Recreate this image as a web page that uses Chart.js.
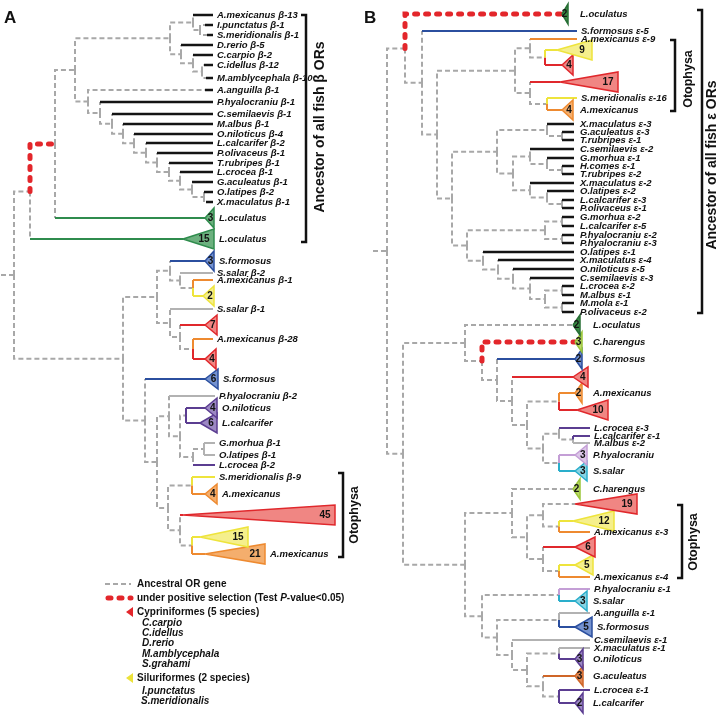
<!DOCTYPE html>
<html>
<head>
<meta charset="utf-8">
<script src="https://cdn.jsdelivr.net/npm/chart.js@4.4.0/dist/chart.umd.min.js"></script>
<style>
  body { margin: 0; background: #fff; }
  #wrap { width: 720px; height: 715px; }
</style>
</head>
<body>
<div id="wrap"><canvas id="tree" width="720" height="715"></canvas></div>
<script>
// ---- Panel A (beta ORs) ----
// internal nodes: [id, parent, depth]
const aNodes = [
  ["r", null, 1], ["n14", "r", 14], ["n30", "n14", 30], ["n55", "n30", 55], ["n75", "n55", 75],
  ["n170", "n75", 170], ["n193", "n170", 193], ["n200", "n193", 200], ["n181", "n170", 181],
  ["n193b", "n181", 193], ["n202", "n193b", 202], ["n88", "n75", 88], ["n100", "n88", 100],
  ["n112", "n100", 112], ["n123", "n112", 123], ["n134", "n123", 134], ["n146", "n134", 146],
  ["n157", "n146", 157], ["n169", "n157", 169], ["n180", "n169", 180], ["n192", "n180", 192],
  ["n204", "n192", 204],
  ["m123", "n14", 123], ["m157", "m123", 157], ["m170", "m157", 170], ["m180", "m170", 180],
  ["m193", "m180", 193], ["m170b", "m157", 170], ["m180b", "m170b", 180], ["m193b", "m180b", 193],
  ["m145", "m123", 145], ["m157b", "m145", 157], ["m169", "m157b", 169], ["m180c", "m169", 180],
  ["m186", "m180c", 186], ["m193c", "m180c", 193], ["m204", "m193c", 204], ["m168", "m157b", 168],
  ["m192", "m168", 192], ["m180d", "m168", 180], ["m192b", "m180d", 192]
];
// tips: [label, parent, position, group, genes in clade, clade start, tip depth, solid from, selected]
const aTips = [
  ["A.mexicanus β-13", "n193", 15, "k", 0, null, 213],
  ["I.punctatus β-1", "n200", 25, "k", 0, null, 213, 205],
  ["S.meridionalis β-1", "n200", 35, "k", 0, null, 213, 207],
  ["D.rerio β-5", "n181", 45, "k", 0, null, 213],
  ["C.carpio β-2", "n193b", 55, "k", 0, null, 213],
  ["C.idellus β-12", "n202", 65, "k", 0, null, 213, 204],
  ["M.amblycephala β-10", "n202", 78, "k", 0, null, 213, 206],
  ["A.anguilla β-1", "n88", 90, "k", 0, null, 213, 205],
  ["P.hyalocraniu β-1", "n100", 102, "k", 0, null, 213],
  ["C.semilaevis β-1", "n112", 114, "k", 0, null, 213],
  ["M.albus β-1", "n123", 124, "k", 0, null, 213],
  ["O.niloticus β-4", "n134", 134, "k", 0, null, 213],
  ["L.calcarifer β-2", "n146", 143, "k", 0, null, 213],
  ["P.olivaceus β-1", "n157", 153, "k", 0, null, 213],
  ["T.rubripes β-1", "n169", 163, "k", 0, null, 213],
  ["L.crocea β-1", "n180", 172, "k", 0, null, 213],
  ["G.aculeatus β-1", "n192", 182, "k", 0, null, 213],
  ["O.latipes β-2", "n204", 192, "k", 0, null, 213],
  ["X.maculatus β-1", "n204", 202, "k", 0, null, 213, 206],
  ["L.oculatus", "n55", 218, "gr", 3, 205, 214],
  ["L.oculatus", "n30", 239, "gr", 15, 183, 214],
  ["S.formosus", "m170", 261, "b", 3, 205, 214],
  ["S.salar β-2", "m180", 273, "g", 0, null, 213],
  ["A.mexicanus β-1", "m193", 280, "o", 0, null, 213],
  ["", "m193", 296, "y", 2, 203, 214],
  ["S.salar β-1", "m170b", 309, "g", 0, null, 213],
  ["", "m180b", 325, "r", 7, 205, 217],
  ["A.mexicanus β-28", "m193b", 339, "o", 0, null, 213],
  ["", "m193b", 359, "r", 4, 205, 216],
  ["S.formosus", "m145", 379, "b", 6, 205, 218],
  ["P.hyalocraniu β-2", "m169", 396, "g", 0, null, 215],
  ["O.niloticus", "m186", 408, "p", 4, 205, 217],
  ["L.calcarifer", "m186", 423, "p", 6, 200, 217],
  ["G.morhua β-1", "m204", 443, "g", 0, null, 215],
  ["O.latipes β-1", "m204", 455, "g", 0, null, 215],
  ["L.crocea β-2", "m193c", 465, "p", 0, null, 215],
  ["S.meridionalis β-9", "m192", 477, "y", 0, null, 215],
  ["A.mexicanus", "m192", 494, "o", 4, 205, 217],
  ["", "m180d", 515, "r", 45, 183, 335],
  ["", "m192b", 537, "y", 15, 200, 248],
  ["A.mexicanus", "m192b", 554, "o", 21, 205, 265]
];
const aSelected = ["n55"];

// ---- Panel B (epsilon ORs) ----
const bNodes = [
  ["r", null, 13], ["n27", "r", 27], ["n45", "n27", 45], ["n62", "n45", 62], ["n77", "n62", 77],
  ["n155", "n77", 155], ["n170", "n155", 170], ["n185", "n170", 185], ["n170b", "n155", 170],
  ["n187", "n170b", 187], ["n92", "n77", 92], ["n137", "n92", 137], ["n187b", "n137", 187],
  ["n202", "n187b", 202], ["n153", "n137", 153], ["n170c", "n153", 170], ["n187c", "n170c", 187],
  ["n202b", "n187c", 202], ["n170d", "n153", 170], ["n187d", "n170d", 187], ["n202c", "n187d", 202],
  ["n107", "n92", 107], ["n185b", "n107", 185], ["n202d", "n185b", 202], ["n202e", "n185b", 202],
  ["n123", "n107", 123], ["n138", "n123", 138], ["n153b", "n138", 153], ["n170e", "n153b", 170],
  ["n185c", "n170e", 185], ["n202f", "n185c", 202], ["n202g", "n185c", 202],
  ["m43", "n27", 43], ["m105", "m43", 105], ["m122", "m105", 122], ["m137", "m122", 137],
  ["m152", "m137", 152], ["m167", "m152", 167], ["m199", "m167", 199], ["m183", "m167", 183],
  ["m199b", "m183", 199], ["m213", "m199b", 213], ["m199c", "m183", 199],
  ["m105b", "m43", 105], ["m152b", "m105b", 152], ["m167b", "m152b", 167], ["m183b", "m167b", 183],
  ["m199d", "m183b", 199], ["m183c", "m167b", 183], ["m199e", "m183c", 199], ["m122b", "m105b", 122],
  ["m199f", "m122b", 199], ["m137b", "m122b", 137], ["m199g", "m137b", 199], ["m152c", "m137b", 152],
  ["m167c", "m152c", 167], ["m199h", "m167c", 199], ["m183d", "m167c", 183], ["m199i", "m183d", 199]
];
const bTips = [
  ["L.oculatus", "n45", 14, "dg", 2, 202, 208, null, true],
  ["S.formosus ε-5", "n62", 31, "b", 0, null, 217],
  ["A.mexicanus ε-9", "n170", 39, "o", 0, null, 217],
  ["", "n185", 50, "y", 9, 197, 232],
  ["", "n185", 65, "r", 4, 202, 213],
  ["", "n170b", 82, "r", 17, 200, 258],
  ["S.meridionalis ε-16", "n187", 98, "y", 0, null, 217],
  ["A.mexicanus", "n187", 110, "o", 4, 202, 213],
  ["X.maculatus ε-3", "n187b", 124, "k", 0, null, 214],
  ["G.aculeatus ε-3", "n202", 132, "k", 0, null, 214],
  ["T.rubripes ε-1", "n202", 140, "k", 0, null, 214],
  ["C.semilaevis ε-2", "n170c", 149, "k", 0, null, 214],
  ["G.morhua ε-1", "n187c", 158, "k", 0, null, 214],
  ["H.comes ε-1", "n202b", 166, "k", 0, null, 214],
  ["T.rubripes ε-2", "n202b", 174, "k", 0, null, 214],
  ["X.maculatus ε-2", "n170d", 183, "k", 0, null, 214],
  ["O.latipes ε-2", "n187d", 191, "k", 0, null, 214],
  ["L.calcarifer ε-3", "n202c", 200, "k", 0, null, 214],
  ["P.olivaceus ε-1", "n202c", 208, "k", 0, null, 214],
  ["G.morhua ε-2", "n202d", 217, "k", 0, null, 214],
  ["L.calcarifer ε-5", "n202d", 226, "k", 0, null, 214],
  ["P.hyalocraniu ε-2", "n202e", 235, "k", 0, null, 214],
  ["P.hyalocraniu ε-3", "n202e", 243, "k", 0, null, 214],
  ["O.latipes ε-1", "n123", 252, "k", 0, null, 214],
  ["X.maculatus ε-4", "n138", 260, "k", 0, null, 214],
  ["O.niloticus ε-5", "n153b", 269, "k", 0, null, 214],
  ["C.semilaevis ε-3", "n170e", 278, "k", 0, null, 214],
  ["L.crocea ε-2", "n202f", 286, "k", 0, null, 214],
  ["M.albus ε-1", "n202f", 295, "k", 0, null, 214],
  ["M.mola ε-1", "n202g", 303, "k", 0, null, 214],
  ["P.olivaceus ε-2", "n202g", 312, "k", 0, null, 214],
  ["L.oculatus", "m105", 325, "dg", 2, 213, 220, 213],
  ["C.harengus", "m122", 342, "lg", 3, 215, 222, null, true],
  ["S.formosus", "m137", 359, "b", 2, 215, 222],
  ["", "m152", 377, "r", 4, 213, 228],
  ["A.mexicanus", "m199", 393, "o", 2, 215, 222],
  ["", "m199", 410, "r", 10, 217, 248],
  ["L.crocea ε-3", "m199b", 428, "p", 0, null, 230],
  ["L.calcarifer ε-1", "m213", 436, "p", 0, null, 230],
  ["M.albus ε-2", "m213", 443, "g", 0, null, 230],
  ["P.hyalocraniu", "m199c", 455, "lp", 3, 215, 227],
  ["S.salar", "m199c", 471, "t", 3, 215, 227],
  ["C.harengus", "m152b", 489, "lg", 2, 213, 220, 213],
  ["", "m183b", 504, "r", 19, 215, 277, 215],
  ["", "m199d", 521, "y", 12, 213, 254],
  ["A.mexicanus ε-3", "m199d", 532, "o", 0, null, 230],
  ["", "m183c", 547, "r", 6, 215, 235],
  ["", "m199e", 565, "y", 5, 215, 233],
  ["A.mexicanus ε-4", "m199e", 577, "o", 0, null, 230],
  ["P.hyalocraniu ε-1", "m199f", 589, "lp", 0, null, 230],
  ["S.salar", "m199f", 601, "t", 3, 215, 227],
  ["A.anguilla ε-1", "m199g", 613, "g", 0, null, 230],
  ["S.formosus", "m199g", 627, "b", 5, 215, 232],
  ["C.semilaevis ε-1", "m152c", 640, "g", 0, null, 230],
  ["X.maculatus ε-1", "m199h", 648, "g", 0, null, 230],
  ["O.niloticus", "m199h", 659, "p", 3, 215, 223],
  ["G.aculeatus", "m183d", 676, "br", 3, 215, 223],
  ["L.crocea ε-1", "m199i", 690, "p", 0, null, 230],
  ["L.calcarifer", "m199i", 703, "p", 2, 215, 223]
];
const bSelected = [];

// ---- styles ----
const FONT = '"Liberation Sans", Arial, sans-serif';
const GRAY = "#a8a8a8";
const RED = "#e3262b";
const groupColors = {
  k: ["#141414", null], g: ["#b2b2b2", null],
  r: ["#e0282c", "#f08683"], o: ["#ee8a30", "#f4ae6d"], y: ["#eee43c", "#f5ef8c"],
  gr: ["#2f8c4d", "#6cb07e"], dg: ["#276f35", "#3b8a45"], lg: ["#9bc63a", "#bcd86c"],
  b: ["#2b4f9f", "#7592cf"], p: ["#5b3d91", "#9c88c3"], lp: ["#c49fd6", "#dcc7e8"],
  t: ["#2aaecb", "#88d3e3"], br: ["#cf6628", "#e48b55"]
};
const TRI_HALF = 10;

const labels = [];
const numbers = [];

function buildPanel(nodes, tips, selected, xAxis, labelCol) {
  const info = {};
  nodes.forEach(([id, parent, depth]) => { info[id] = { parent, depth, kids: [] }; });
  nodes.forEach(([id, parent]) => { if (parent) info[parent].kids.push({ node: id }); });
  tips.forEach((t, i) => info[t[1]].kids.push({ tip: i }));
  const yOf = id => {
    const n = info[id];
    if (n.y === undefined) {
      const ys = n.kids.map(k => (k.node ? yOf(k.node) : tips[k.tip][2]));
      n.y = (Math.min(...ys) + Math.max(...ys)) / 2;
    }
    return n.y;
  };
  const buckets = {};
  const add = (key, pts) => {
    buckets[key] = buckets[key] || [];
    pts.forEach(([x, y]) => buckets[key].push({ x, y }));
    buckets[key].push({ x: null, y: null });
  };

  nodes.forEach(([id, parent, depth]) => {
    if (!parent) return;
    const p = info[parent];
    add(selected.includes(id) ? "sel" : "dash", [[p.depth, yOf(parent)], [p.depth, yOf(id)], [depth, yOf(id)]]);
  });

  const tris = [];
  tips.forEach(([label, parent, pos, group, count, apex, tip, from, isSel]) => {
    const p = info[parent], py = yOf(parent);
    const end = count ? apex : tip;
    const onlyTips = p.kids.every(k => !k.node);
    if (isSel) {
      add("sel", [[p.depth, py], [p.depth, pos], [end, pos]]);
    } else {
      let start = p.depth;
      if (from != null && from > p.depth) {
        add("dash", [[p.depth, py], [p.depth, pos], [from, pos]]);
        start = from;
      } else {
        add(onlyTips && group !== "k" ? group : "dash", [[p.depth, py], [p.depth, pos]]);
      }
      if (end > start) add(group, [[start, pos], [end, pos]]);
    }
    if (count) {
      tris.push({ group, pts: [[apex, pos], [tip, pos - TRI_HALF], [tip, pos + TRI_HALF], [apex, pos]] });
      const len = tip - apex;
      numbers.push({ axis: xAxis, x: tip - Math.max(3.5, Math.min(10, len * 0.35)), y: pos, text: String(count) });
    }
    if (label) {
      labels.push({ axis: xAxis, x: Math.max(count ? tip + 5 : tip + 4, labelCol(pos)), y: pos, text: label });
    }
  });

  const sets = [];
  tris.forEach(t => {
    sets.push({
      data: t.pts.map(([x, y]) => ({ x, y })),
      borderColor: groupColors[t.group][0], backgroundColor: groupColors[t.group][1],
      borderWidth: 1.5, fill: "shape", order: 0, xAxisID: xAxis
    });
  });
  Object.keys(buckets).forEach(key => {
    const ds = { data: buckets[key], fill: false, xAxisID: xAxis, borderJoinStyle: "miter" };
    if (key === "dash") Object.assign(ds, { borderColor: GRAY, borderWidth: 2, borderDash: [5, 3], order: 3 });
    else if (key === "sel") Object.assign(ds, { borderColor: RED, borderWidth: 5, borderDash: [3, 8], borderCapStyle: "round", order: 2 });
    else Object.assign(ds, { borderColor: groupColors[key][0], borderWidth: key === "k" ? 2.6 : 2, order: 1 });
    sets.push(ds);
  });
  return sets;
}

const datasets = [
  ...buildPanel(aNodes, aTips, aSelected, "x", () => 217),
  ...buildPanel(bNodes, bTips, bSelected, "xb", pos => (pos < 318 ? 220 : 233))
].map(d => Object.assign({ pointRadius: 0, pointHoverRadius: 0, tension: 0, spanGaps: false, yAxisID: "y" }, d));

function bracket(ctx, x, top, bottom, tick) {
  ctx.beginPath();
  ctx.moveTo(x - tick, top); ctx.lineTo(x, top); ctx.lineTo(x, bottom); ctx.lineTo(x - tick, bottom);
  ctx.stroke();
}
function vText(ctx, text, x, y, size) {
  ctx.save();
  ctx.translate(x, y);
  ctx.rotate(-Math.PI / 2);
  ctx.font = `bold ${size}px ${FONT}`;
  ctx.textAlign = "center";
  ctx.textBaseline = "middle";
  ctx.fillText(text, 0, 0);
  ctx.restore();
}
function legendTri(ctx, x, y, color) {
  ctx.beginPath();
  ctx.moveTo(x, y); ctx.lineTo(x + 7, y - 5); ctx.lineTo(x + 7, y + 5); ctx.closePath();
  ctx.fillStyle = color; ctx.fill();
}

const textPlugin = {
  id: "treeText",
  afterDatasetsDraw(chart) {
    const ctx = chart.ctx;
    const sy = v => chart.scales.y.getPixelForValue(v);
    ctx.save();
    ctx.fillStyle = "#111";
    ctx.textBaseline = "middle";
    ctx.textAlign = "left";
    ctx.font = `italic bold 9.5px ${FONT}`;
    labels.forEach(l => ctx.fillText(l.text, chart.scales[l.axis].getPixelForValue(l.x), sy(l.y)));
    ctx.textAlign = "center";
    ctx.font = `bold 10px ${FONT}`;
    numbers.forEach(n => ctx.fillText(n.text, chart.scales[n.axis].getPixelForValue(n.x), sy(n.y) + 0.5));

    // panel letters
    ctx.textAlign = "left";
    ctx.font = `bold 17px ${FONT}`;
    ctx.fillText("A", 4, 18);
    ctx.fillText("B", 364, 18);

    // brackets
    ctx.strokeStyle = "#111";
    ctx.lineWidth = 2.5;
    bracket(ctx, 306, 15, 242, 5);
    bracket(ctx, 343, 473, 557, 5);
    bracket(ctx, 675, 40, 111, 5);
    bracket(ctx, 682, 505, 578, 5);
    bracket(ctx, 702, 10, 313, 5);
    ctx.fillStyle = "#111";
    vText(ctx, "Ancestor of all fish β ORs", 320, 127, 14);
    vText(ctx, "Otophysa", 355, 515, 12.5);
    vText(ctx, "Otophysa", 689, 79, 12.5);
    vText(ctx, "Otophysa", 694, 542, 12.5);
    vText(ctx, "Ancestor of all fish ε ORs", 712, 165, 14);

    // legend
    ctx.lineWidth = 2; ctx.strokeStyle = GRAY; ctx.setLineDash([5, 3]);
    ctx.beginPath(); ctx.moveTo(105, 584); ctx.lineTo(131, 584); ctx.stroke();
    ctx.lineWidth = 5; ctx.strokeStyle = RED; ctx.setLineDash([3, 8]); ctx.lineCap = "round";
    ctx.beginPath(); ctx.moveTo(108, 598); ctx.lineTo(131, 598); ctx.stroke();
    ctx.setLineDash([]); ctx.lineCap = "butt";
    legendTri(ctx, 126, 612, RED);
    legendTri(ctx, 126, 678, "#ece23a");
    ctx.fillStyle = "#111";
    ctx.textAlign = "left";
    ctx.font = `bold 10px ${FONT}`;
    ctx.fillText("Ancestral OR gene", 137, 584);
    let tx = 137;
    const part1 = "under positive selection (Test ";
    ctx.fillText(part1, tx, 598); tx += ctx.measureText(part1).width;
    ctx.font = `italic bold 10px ${FONT}`;
    ctx.fillText("P", tx, 598); tx += ctx.measureText("P").width;
    ctx.font = `bold 10px ${FONT}`;
    ctx.fillText("-value<0.05)", tx, 598);
    ctx.fillText("Cypriniformes (5 species)", 137, 612);
    ctx.fillText("Siluriformes (2 species)", 137, 678);
    ctx.font = `italic bold 10px ${FONT}`;
    ["C.carpio", "C.idellus", "D.rerio", "M.amblycephala", "S.grahami"].forEach((s, i) => ctx.fillText(s, 142, 623 + i * 10.3));
    ctx.fillText("I.punctatus", 142, 691);
    ctx.fillText("S.meridionalis", 141, 701);
    ctx.restore();
  }
};

new Chart(document.getElementById("tree"), {
  type: "line",
  data: { datasets },
  options: {
    responsive: false,
    animation: false,
    events: [],
    layout: { padding: 0 },
    plugins: { legend: { display: false }, tooltip: { enabled: false } },
    scales: {
      x: { type: "linear", display: false, min: 0, max: 720 },
      xb: { type: "linear", axis: "x", display: false, min: -360, max: 360 },
      y: { type: "linear", display: false, min: 0, max: 715, reverse: true }
    }
  },
  plugins: [textPlugin]
});
</script>
</body>
</html>
